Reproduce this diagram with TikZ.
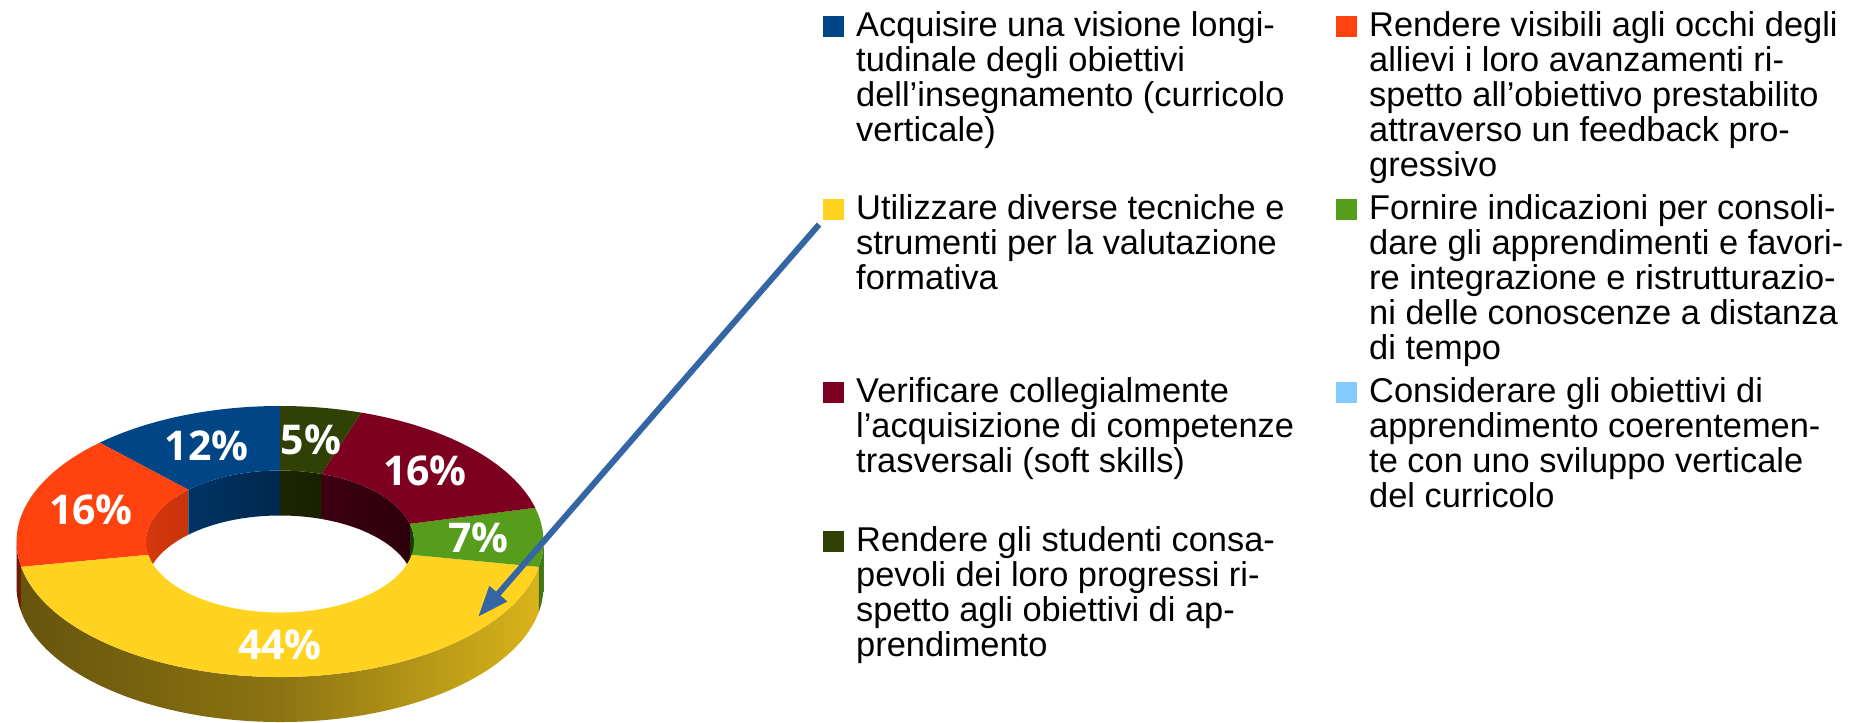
\documentclass[tikz,border=0pt]{standalone}
\usepackage{fontspec}
\setmainfont{Liberation Sans}
\newfontfamily\pctfont{Open Sans}
\usetikzlibrary{arrows.meta, positioning, calc}
\tikzset{>=latex}
\definecolor{lgblue}{HTML}{004586}
\definecolor{lgorange}{HTML}{FF420E}
\definecolor{lgyellow}{HTML}{FFD320}
\definecolor{lggreen}{HTML}{579D1C}
\definecolor{lgmaroon}{HTML}{7E0021}
\definecolor{lglight}{HTML}{83CAFF}
\definecolor{lgdark}{HTML}{314004}
\definecolor{lgarrow}{HTML}{3465A4}
\newcommand{\legfont}{\fontsize{17.2pt}{17.5pt}\selectfont}
% ring sizes (px)
\newcommand{\ORx}{263.5}
\newcommand{\ORy}{135.5}
\newcommand{\IRx}{134}
\newcommand{\IRy}{71}
\newcommand{\RingD}{45}

\begin{document}
\begin{tikzpicture}[
  x=0.5pt, y=0.5pt,
  every node/.style={inner sep=0pt},
  pct/.style={text=white, font=\pctfont\bfseries\fontsize{20.5pt}{24pt}\selectfont},
  legbox/.style={fill=#1, minimum size=10.5pt, anchor=south west},
  legtext/.style={align=left, anchor=north west, font=\legfont,
    execute at begin node={\rule{0pt}{13pt}}},
  pointer/.style={-{Triangle[length=15.5pt,width=11pt]}, line width=3pt, draw=lgarrow}
]
\useasboundingbox (0,0) rectangle (1850,722);

% Ring
\begin{scope}[shift={(280,180.5)}]
  % outer side, front half
  \shade[left color=lgorange!40!black, right color=lgorange!48!black]
    ({\ORx*cos(180)},{\ORy*sin(180)}) arc[start angle=180, end angle=190.8, x radius=\ORx, y radius=\ORy]
    -- ++(0,-\RingD) arc[start angle=190.8, end angle=180, x radius=\ORx, y radius=\ORy] -- cycle;
  \shade[left color=lgyellow!40!black, right color=lgyellow!85!black, middle color=lgyellow!55!black]
    ({\ORx*cos(190.8)},{\ORy*sin(190.8)}) arc[start angle=190.8, end angle=349.2, x radius=\ORx, y radius=\ORy]
    -- ++(0,-\RingD) arc[start angle=349.2, end angle=190.8, x radius=\ORx, y radius=\ORy] -- cycle;
  \shade[left color=lggreen!72!black, right color=lggreen!80!black]
    ({\ORx*cos(349.2)},{\ORy*sin(349.2)}) arc[start angle=349.2, end angle=360, x radius=\ORx, y radius=\ORy]
    -- ++(0,-\RingD) arc[start angle=360, end angle=349.2, x radius=\ORx, y radius=\ORy] -- cycle;

  % inner wall, back half
  \foreach \sa/\sb/\col/\lft/\rgt in {133.2/180/lgorange/84/78, 90/133.2/lgblue/75/58,
      72/90/lgdark/58/51, 14.4/72/lgmaroon/48/36, 0/14.4/lggreen/36/35}
    \shade[left color=\col!\lft!black, right color=\col!\rgt!black]
      ({\IRx*cos(\sa)},{\IRy*sin(\sa)}) arc[start angle=\sa, end angle=\sb, x radius=\IRx, y radius=\IRy]
      -- ++(0,-\RingD) arc[start angle=\sb, end angle=\sa, x radius=\IRx, y radius=\IRy] -- cycle;

  % top face and percentages
  \foreach \sa/\sb/\col/\val [count=\i] in {90/133.2/lgblue/12, 133.2/190.8/lgorange/16,
      190.8/349.2/lgyellow/44, 349.2/374.4/lggreen/7, 374.4/432/lgmaroon/16, 432/450/lgdark/5} {
    \fill[\col] ({\ORx*cos(\sa)},{\ORy*sin(\sa)}) arc[start angle=\sa, end angle=\sb, x radius=\ORx, y radius=\ORy]
      -- ({\IRx*cos(\sb)},{\IRy*sin(\sb)}) arc[start angle=\sb, end angle=\sa, x radius=\IRx, y radius=\IRy] -- cycle;
    \node[pct] (lab\i) at ({198.75*cos((\sa+\sb)/2)},{103.25*sin((\sa+\sb)/2)}) {\val\%};
  }
\end{scope}

% Legend
\foreach \key/\c/\x/\y/\txt in {
  A/lgblue/823/685/{Acquisire una visione longi-\\tudinale degli obiettivi\\dell’insegnamento (curricolo\\verticale)},
  B/lgorange/1336/685/{Rendere visibili agli occhi degli\\allievi i loro avanzamenti ri-\\spetto all’obiettivo prestabilito\\attraverso un feedback pro-\\gressivo},
  C/lgyellow/823/502/{Utilizzare diverse tecniche e\\strumenti per la valutazione\\formativa},
  D/lggreen/1336/502/{Fornire indicazioni per consoli-\\dare gli apprendimenti e favori-\\re integrazione e ristrutturazio-\\ni delle conoscenze a distanza\\di tempo},
  E/lgmaroon/823/319/{Verificare collegialmente\\l’acquisizione di competenze\\trasversali (soft skills)},
  F/lglight/1336/319/{Considerare gli obiettivi di\\apprendimento coerentemen-\\te con uno sviluppo verticale\\del curricolo},
  G/lgdark/823/170/{Rendere gli studenti consa-\\pevoli dei loro progressi ri-\\spetto agli obiettivi di ap-\\prendimento}} {
  \node[legbox=\c] (sq\key) at (\x,\y) {};
  \node[legtext] (txt\key) at ([xshift=5.5pt, yshift=13pt]sq\key.south east) {\txt};
}

% Pointer to the yellow slice
\coordinate (tip44) at (478,105);
\draw[pointer, shorten <=3pt] (sqC.south west) -- (tip44);

\end{tikzpicture}
\end{document}
